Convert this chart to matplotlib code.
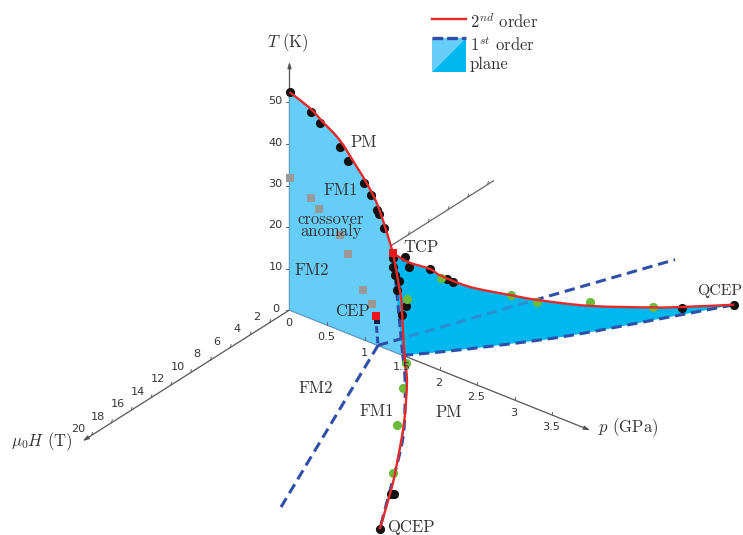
import numpy as np
import matplotlib
matplotlib.use("Agg")
import matplotlib.pyplot as plt
from matplotlib.patches import Polygon, PathPatch
from matplotlib.path import Path

plt.rcParams['mathtext.fontset'] = 'cm'
plt.rcParams['axes.unicode_minus'] = False

#
# Data: pressure p (GPa), field H (T), temperature T (K)
#

# second order line at H = 0
tc_p = [0.00, 0.273, 0.447, 0.673, 0.896, 1.029, 1.163, 1.273, 1.38]
tc_T = [52.5, 50.6, 48.5, 45.7, 41.0, 38.0, 34.2, 29.3, 23.7]

# second order wing line, mirrored in +H and -H
wing_H = [0.0, 0.6, 1.55, 2.0, 3.39, 5.3, 6.57, 9.38, 13.0, 14.7, 17.9]
wing_p = [1.38, 1.50, 1.67, 1.756, 1.96, 2.24, 2.433, 2.764, 3.13, 3.29, 3.565]
wing_T = [23.7, 21.5, 19.6, 17.9, 14.6, 11.8, 10.1, 6.8, 3.6, 2.3, 0.0]

# first order foot of the wings, at T = 0
foot_H = [0.0, 1.78, 5.0, 8.64, 14.78, 17.9]
foot_p = [1.51, 1.772, 2.2, 2.64, 3.256, 3.565]

# first order lines
fm_p = [1.149, 1.18]    # CEP down to T = 0
fm_T = [6.9, 0.0]
fm_end_p = 2.5
fm_end_H = 20.0

# measured points
black_p = [0.00, 0.287, 0.403, 0.673, 0.784, 0.989, 1.09, 1.163, 1.19, 1.26,
           1.474, 1.488, 1.663, 1.779, 1.837, 3.289, 3.565,
           1.384, 1.411, 1.485, 1.592, 1.628, 1.884, 1.892, 3.197, 3.241, 3.565]
black_H = [0, 0, 0, 0, 0, 0, 0, 0, 0, 0,
           -0.5, -0.8, -1.55, -2.4, -2.6, -14.7, -17.9,
           0, 0.2, 0.6, 1.0, 1.5, 2.5, 3.0, 14.0, 14.0, 17.9]
black_T = [52.5, 49.9, 47.9, 44.1, 41.6, 37.8, 35.7, 32.5, 31.7, 28.9,
           22.7, 20.0, 19.5, 16.7, 16.2, 2.0, 0.0,
           22.5, 20.9, 20.1, 20.1, 18.8, 18.4, 17.0, 0.0, 0.2, 0.0]

green_p = [1.756, 2.249, 2.429, 2.764, 3.135, 1.827, 2.213, 2.441, 2.679, 3.035]
green_H = [-2.0, -5.3, -6.57, -9.38, -13.0, 2.0, 5.0, 7.0, 9.4, 12.5]
green_T = [17.5, 11.9, 9.5, 7.7, 3.8, 18.8, 10.7, 9.4, 5.9, 1.6]

grey_p = [0.0, 0.287, 0.397, 0.673, 0.784, 0.984, 1.096]
grey_T = [31.8, 29.1, 27.2, 22.9, 19.2, 11.9, 9.3]

red_p = [1.38, 1.149]
red_T = [23.7, 6.9]

cep_black_p = [1.173]
cep_black_T = [5.8]

T_ticks = [0, 10, 20, 30, 40, 50]
p_ticks = [0.5, 1, 1.5, 2, 2.5, 3, 3.5]
p_tick_labels = ['0.5', '1', '1.5', '2', '2.5', '3', '3.5']
H_ticks = [2, 4, 6, 8, 10, 12, 14, 16, 18, 20]


def project(p, H, T):
    # oblique projection onto the picture (pixels)
    p, H, T = np.asarray(p, float), np.asarray(H, float), np.asarray(T, float)
    x = 289.5 + 75.0*p - 9.9*H
    y = 310.0 + 30.0*p + 6.27*H - 4.15*T
    return x, y


def smooth_path(x, y):
    # bezier through the read points, so the lines are not angular
    pts = np.column_stack([x, y])
    verts = [pts[0]]
    codes = [Path.MOVETO]
    for i in range(len(pts) - 1):
        before = pts[max(i - 1, 0)]
        after = pts[min(i + 2, len(pts) - 1)]
        verts += [pts[i] + (pts[i + 1] - before)/6, pts[i + 1] - (after - pts[i])/6, pts[i + 1]]
        codes += [Path.CURVE4]*3
    return Path(verts, codes)


DARK = '#2f4fa8'
RED = '#e62a2a'
LIGHT = '#66ccf8'
WING = '#00b8f0'
AXIS = '#666666'
TEXT = '#333333'
DASH = (3.4, 1.9)

fig = plt.figure(figsize=(7.43, 5.35), dpi=100)
ax = fig.add_axes([0, 0, 1, 1])
ax.set_xlim(0, 743)
ax.set_ylim(535, 0)
ax.axis('off')


def label(x, y, s, ha='center', size=12, **kw):
    ax.text(x, y, s, ha=ha, va='center', fontsize=size, color=TEXT,
            family='cmr10', zorder=12, **kw)


def number(x, y, s):
    ax.text(x, y, s, ha='center', va='center', fontsize=8.1, color=TEXT, zorder=12)


def arrow(start, end):
    ax.annotate('', xy=end, xytext=start, zorder=1,
                arrowprops=dict(arrowstyle='-|>,head_width=0.11,head_length=0.35',
                                color='#555555', lw=0.9, shrinkA=0, shrinkB=0))


def curve(path, color, lw, zorder, dashes=None):
    patch = PathPatch(path, facecolor='none', edgecolor=color, lw=lw, zorder=zorder,
                      capstyle='butt')
    if dashes is not None:
        patch.set_linestyle((0, dashes))
    ax.add_patch(patch)
    return patch


# axes
arrow(project(0, 0, 0), project(0, 0, 59.8))
arrow(project(0, 0, 0), project(4.01, 0, 0))
arrow(project(0, 0, 0), project(0, 20.9, 0))
ax.plot(*project([0, 0], [0, -20.6], [0, 0]), color=AXIS, lw=0.9, zorder=1)

for t in T_ticks:
    x, y = project(0, 0, t)
    ax.plot([x-4, x], [y, y], color=AXIS, lw=0.7, zorder=1)
    number(x-14, y-1.5, str(t))
for v, s in zip(p_ticks, p_tick_labels):
    x, y = project(v, 0, 0)
    ax.plot([x, x], [y-3, y], color=AXIS, lw=0.7, zorder=6)
    number(x-0.5, y+12.5, s)
number(289, 322.5, '0')
for h in H_ticks:
    x, y = project(0, h, 0)
    ax.plot([x, x+1], [y, y-3], color=AXIS, lw=0.7, zorder=1)
    number(x-13, y-6, str(h))
    x, y = project(0, -h, 0)
    ax.plot([x, x+1], [y, y-3], color=AXIS, lw=0.7, zorder=1)

# H = 0 plane
curve_x, curve_y = project(tc_p, np.zeros(len(tc_p)), tc_T)
tc_path = smooth_path(curve_x, curve_y)
foot = project(foot_p[0], 0, 0)
origin = project(0, 0, 0)
plane = [tuple(v) for v in tc_path.interpolated(12).vertices] + [foot, origin]
ax.add_patch(Polygon(plane, closed=True, facecolor=LIGHT, edgecolor='#5aa5d8',
                     lw=0.8, zorder=2))

# FM1-FM2 first order line
fm_x, fm_y = project([fm_p[1], fm_end_p], [0, -fm_end_H], [0, 0])
ax.plot(*project(fm_p, [0, 0], fm_T), color=DARK, lw=2.2, dashes=(2.2, 1.2), zorder=3)
ax.plot(*project([fm_p[1], fm_end_p], [0, fm_end_H], [0, 0]), color=DARK, lw=2.2,
        dashes=DASH, zorder=3)
ax.plot(fm_x, fm_y, color=DARK, lw=2.2, dashes=DASH, zorder=3)

# wings
for sign in (-1, 1):
    up_path = smooth_path(*project(wing_p, sign*np.array(wing_H), wing_T))
    low_path = smooth_path(*project(foot_p, sign*np.array(foot_H), np.zeros(len(foot_p))))
    corners = np.vstack([up_path.interpolated(12).vertices,
                         low_path.interpolated(12).vertices[::-1]])
    wing = Polygon(corners, closed=True, facecolor=WING, edgecolor='none', zorder=4)
    ax.add_patch(wing)
    if sign == -1:
        # the FM line seen through the wing
        through, = ax.plot(fm_x, fm_y, color='#2a8fd2', lw=2.2, dashes=DASH, zorder=5)
        through.set_clip_path(wing)
    curve(low_path, DARK, 2.2, 6, dashes=DASH)

ax.plot(*project([wing_p[0], foot_p[0]], [0, 0], [wing_T[0], 0]), color=DARK, lw=2.2,
        dashes=(2.8, 1.5), zorder=6)

# measured points under the lines
ax.plot(*project(black_p, black_H, black_T), 'o', color='#111111', ms=6.6, mew=0, zorder=7)
ax.plot(*project(green_p, green_H, green_T), 'o', color='#6cbb3c', ms=6.6, mew=0, zorder=7)
zeros_g = np.zeros(len(grey_p))
ax.plot(*project(grey_p, zeros_g, grey_T), 's', color='#999999', ms=5.8, mew=0, zorder=3)
ax.plot(*project(cep_black_p, [0], cep_black_T), 's', color='#15204a', ms=4.8, mew=0, zorder=8)

# second order lines
curve(tc_path, RED, 1.7, 9)
for sign in (-1, 1):
    curve(smooth_path(*project(wing_p, sign*np.array(wing_H), wing_T)), RED, 1.7, 9)

ax.plot(*project(red_p, [0, 0], red_T), 's', color='#e8141e', ms=6.0, mew=0, zorder=10)

# labels
label(267, 43, r'$T$ (K)', ha='left')
label(11, 442, r'$\mu_0 H$ (T)', ha='left')
label(598, 428, r'$p$ (GPa)', ha='left')
label(364, 142, 'PM')
label(341, 190, 'FM1')
label(331, 225.5, 'crossover\nanomaly', linespacing=0.72)
label(312, 270, 'FM2')
label(352, 311, 'CEP')
label(421, 247, 'TCP')
label(697, 291, 'QCEP', ha='left', size=11.4)
label(387, 527, 'QCEP', ha='left')
label(316, 388, 'FM2')
label(377, 411, 'FM1')
label(449, 412, 'PM')

# legend
ax.plot([432, 466], [19, 19], color=RED, lw=1.7)
ax.add_patch(Polygon([(432, 38), (466, 38), (432, 72)], facecolor=LIGHT, edgecolor='none'))
ax.add_patch(Polygon([(466, 38), (466, 72), (432, 72)], facecolor=WING, edgecolor='none'))
ax.plot([432, 466], [38, 38], color=DARK, lw=2.4, dashes=(3.2, 1.2))
label(470, 21, r'$2^{nd}$ order', ha='left')
label(470, 45, r'$1^{st}$ order', ha='left')
label(470, 64, 'plane', ha='left')

fig.savefig('out.png', dpi=100)
